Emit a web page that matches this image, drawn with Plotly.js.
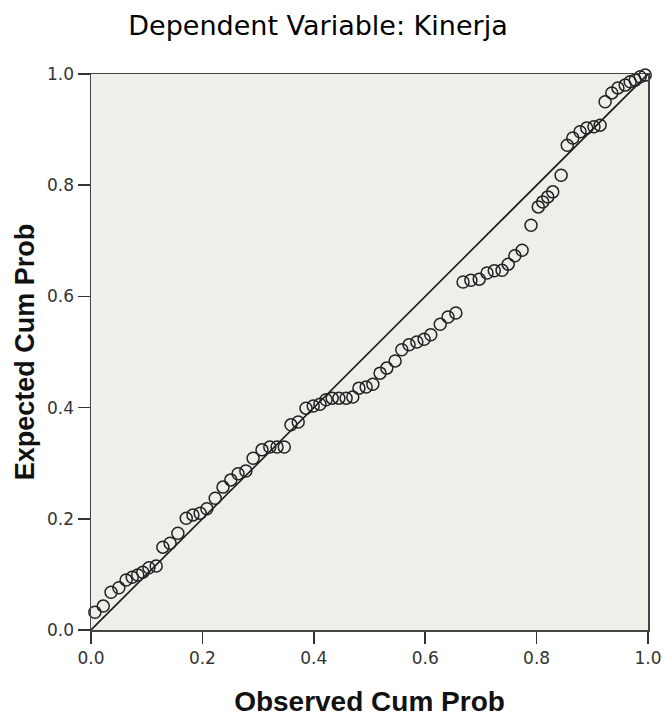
<!DOCTYPE html>
<html>
<head>
<meta charset="utf-8">
<script src="https://cdn.plot.ly/plotly-3.0.1.min.js"></script>
<style>html,body{margin:0;padding:0;background:#fff;}#chart{width:666px;height:720px;}</style>
</head>
<body>
<div id="chart"></div>
<script>
// Observed cumulative probability (x) and expected cumulative probability (y)
var observedCumProb = [0.007,0.022,0.036,0.050,0.063,0.074,0.084,0.093,0.104,0.117,
  0.129,0.142,0.156,0.171,0.183,0.196,0.208,0.223,0.237,0.251,
  0.264,0.278,0.291,0.307,0.321,0.334,0.347,0.359,0.372,0.386,
  0.399,0.411,0.422,0.433,0.445,0.458,0.470,0.481,0.494,0.506,
  0.519,0.531,0.546,0.558,0.571,0.585,0.598,0.610,0.627,0.641,
  0.655,0.668,0.682,0.697,0.711,0.724,0.738,0.749,0.761,0.774,
  0.790,0.803,0.811,0.820,0.829,0.844,0.855,0.865,0.878,0.890,
  0.903,0.914,0.923,0.935,0.946,0.959,0.968,0.977,0.986,0.995];
var expectedCumProb = [0.032,0.043,0.068,0.076,0.090,0.095,0.099,0.104,0.112,0.115,
  0.149,0.156,0.174,0.201,0.207,0.210,0.218,0.237,0.257,0.270,
  0.281,0.286,0.309,0.324,0.329,0.329,0.329,0.369,0.374,0.399,
  0.403,0.406,0.414,0.417,0.417,0.417,0.419,0.435,0.437,0.442,
  0.462,0.471,0.484,0.504,0.513,0.518,0.523,0.531,0.550,0.563,
  0.570,0.626,0.629,0.631,0.642,0.646,0.647,0.658,0.673,0.683,
  0.728,0.761,0.770,0.779,0.788,0.818,0.872,0.885,0.896,0.903,
  0.905,0.908,0.950,0.966,0.975,0.980,0.986,0.989,0.995,0.998];
var refLineX = [0, 1];
var refLineY = [0, 1];
var tickVals = [0, 0.2, 0.4, 0.6, 0.8, 1.0];
var tickText = ['0.0', '0.2', '0.4', '0.6', '0.8', '1.0'];

var traces = [
  {
    x: refLineX, y: refLineY, type: 'scatter', mode: 'lines',
    line: {color: '#1a1a1a', width: 1.6}, hoverinfo: 'skip', showlegend: false
  },
  {
    x: observedCumProb, y: expectedCumProb, type: 'scatter', mode: 'markers',
    marker: {symbol: 'circle-open', size: 12, color: '#222', line: {width: 1.5, color: '#222'}},
    cliponaxis: false, showlegend: false
  }
];

var axisCommon = {
  range: [0, 1], tickvals: tickVals, ticktext: tickText,
  ticks: 'outside', ticklen: 12, tickwidth: 1.5, tickcolor: '#333',
  showgrid: false, zeroline: false, showline: true, linecolor: '#444', linewidth: 1.5,
  mirror: true, tickfont: {family: 'DejaVu Sans', size: 17, color: '#333'}, fixedrange: true
};

var layout = {
  width: 666, height: 720,
  margin: {l: 91, r: 18, t: 74, b: 90},
  paper_bgcolor: '#ffffff', plot_bgcolor: '#efeee9',
  title: {
    text: 'Dependent Variable: Kinerja',
    font: {family: 'DejaVu Sans', size: 27, color: '#000', weight: 500},
    xref: 'container', yref: 'container', x: 0.4775, xanchor: 'center', y: 0.964, yanchor: 'middle'
  },
  xaxis: Object.assign({}, axisCommon, {
    title: {text: '<b>Observed Cum Prob</b>', font: {family: 'Liberation Sans', size: 28, color: '#111'}, standoff: 24}
  }),
  yaxis: Object.assign({}, axisCommon, {
    title: {text: '<b>Expected Cum Prob</b>', font: {family: 'Liberation Sans', size: 27, color: '#111'}, standoff: 4}
  }),
  showlegend: false
};

Plotly.newPlot('chart', traces, layout, {displayModeBar: false, staticPlot: true});
</script>
</body>
</html>
